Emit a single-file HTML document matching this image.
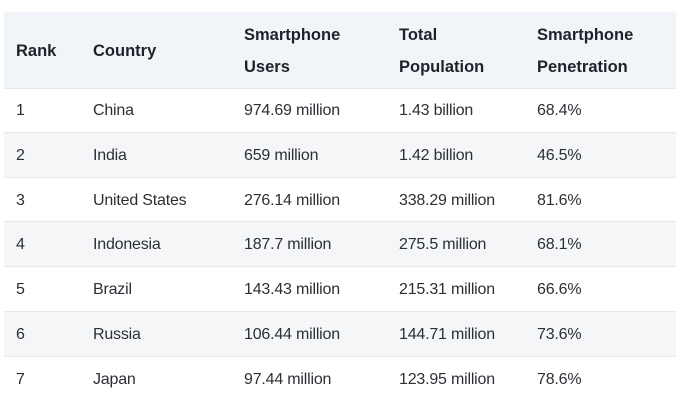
<!DOCTYPE html>
<html><head><style>
body{margin:0;width:681px;height:400px;background:#fff;font-family:"Liberation Sans",sans-serif;position:relative;overflow:hidden;color:#2b2f36}
.hdr{position:absolute;left:4px;top:12px;width:672px;height:76px;background:#f1f4f8}
.row{position:absolute;left:4px;width:672px;height:44px;border-top:1px solid #e6e8ec}
.g{background:#f5f6f8}
.t{position:absolute;font-size:16px;line-height:18px;white-space:nowrap;letter-spacing:-0.2px}
.h{font-weight:bold;color:#1f2329;font-size:16.5px;letter-spacing:0}
</style></head><body>
<div class="hdr"></div>
<div class="row" style="top:88px"></div>
<div class="row g" style="top:132px"></div>
<div class="row" style="top:177px"></div>
<div class="row g" style="top:221px"></div>
<div class="row" style="top:266px"></div>
<div class="row g" style="top:311px"></div>
<div class="row" style="top:356px"></div>

<div class="t h" style="left:16px;top:42px">Rank</div>
<div class="t h" style="left:93px;top:42px">Country</div>
<div class="t h" style="left:244px;top:26px">Smartphone</div>
<div class="t h" style="left:244px;top:58px">Users</div>
<div class="t h" style="left:399px;top:26px">Total</div>
<div class="t h" style="left:399px;top:58px">Population</div>
<div class="t h" style="left:537px;top:26px">Smartphone</div>
<div class="t h" style="left:537px;top:58px">Penetration</div>

<div class="t" style="left:16px;top:102px">1</div><div class="t" style="left:93px;top:102px">China</div><div class="t" style="left:244px;top:102px">974.69 million</div><div class="t" style="left:399px;top:102px">1.43 billion</div><div class="t" style="left:537px;top:102px">68.4%</div>
<div class="t" style="left:16px;top:147px">2</div><div class="t" style="left:93px;top:147px">India</div><div class="t" style="left:244px;top:147px">659 million</div><div class="t" style="left:399px;top:147px">1.42 billion</div><div class="t" style="left:537px;top:147px">46.5%</div>
<div class="t" style="left:16px;top:192px">3</div><div class="t" style="left:93px;top:192px">United States</div><div class="t" style="left:244px;top:192px">276.14 million</div><div class="t" style="left:399px;top:192px">338.29 million</div><div class="t" style="left:537px;top:192px">81.6%</div>
<div class="t" style="left:16px;top:236px">4</div><div class="t" style="left:93px;top:236px">Indonesia</div><div class="t" style="left:244px;top:236px">187.7 million</div><div class="t" style="left:399px;top:236px">275.5 million</div><div class="t" style="left:537px;top:236px">68.1%</div>
<div class="t" style="left:16px;top:281px">5</div><div class="t" style="left:93px;top:281px">Brazil</div><div class="t" style="left:244px;top:281px">143.43 million</div><div class="t" style="left:399px;top:281px">215.31 million</div><div class="t" style="left:537px;top:281px">66.6%</div>
<div class="t" style="left:16px;top:326px">6</div><div class="t" style="left:93px;top:326px">Russia</div><div class="t" style="left:244px;top:326px">106.44 million</div><div class="t" style="left:399px;top:326px">144.71 million</div><div class="t" style="left:537px;top:326px">73.6%</div>
<div class="t" style="left:16px;top:371px">7</div><div class="t" style="left:93px;top:371px">Japan</div><div class="t" style="left:244px;top:371px">97.44 million</div><div class="t" style="left:399px;top:371px">123.95 million</div><div class="t" style="left:537px;top:371px">78.6%</div>
</body></html>
